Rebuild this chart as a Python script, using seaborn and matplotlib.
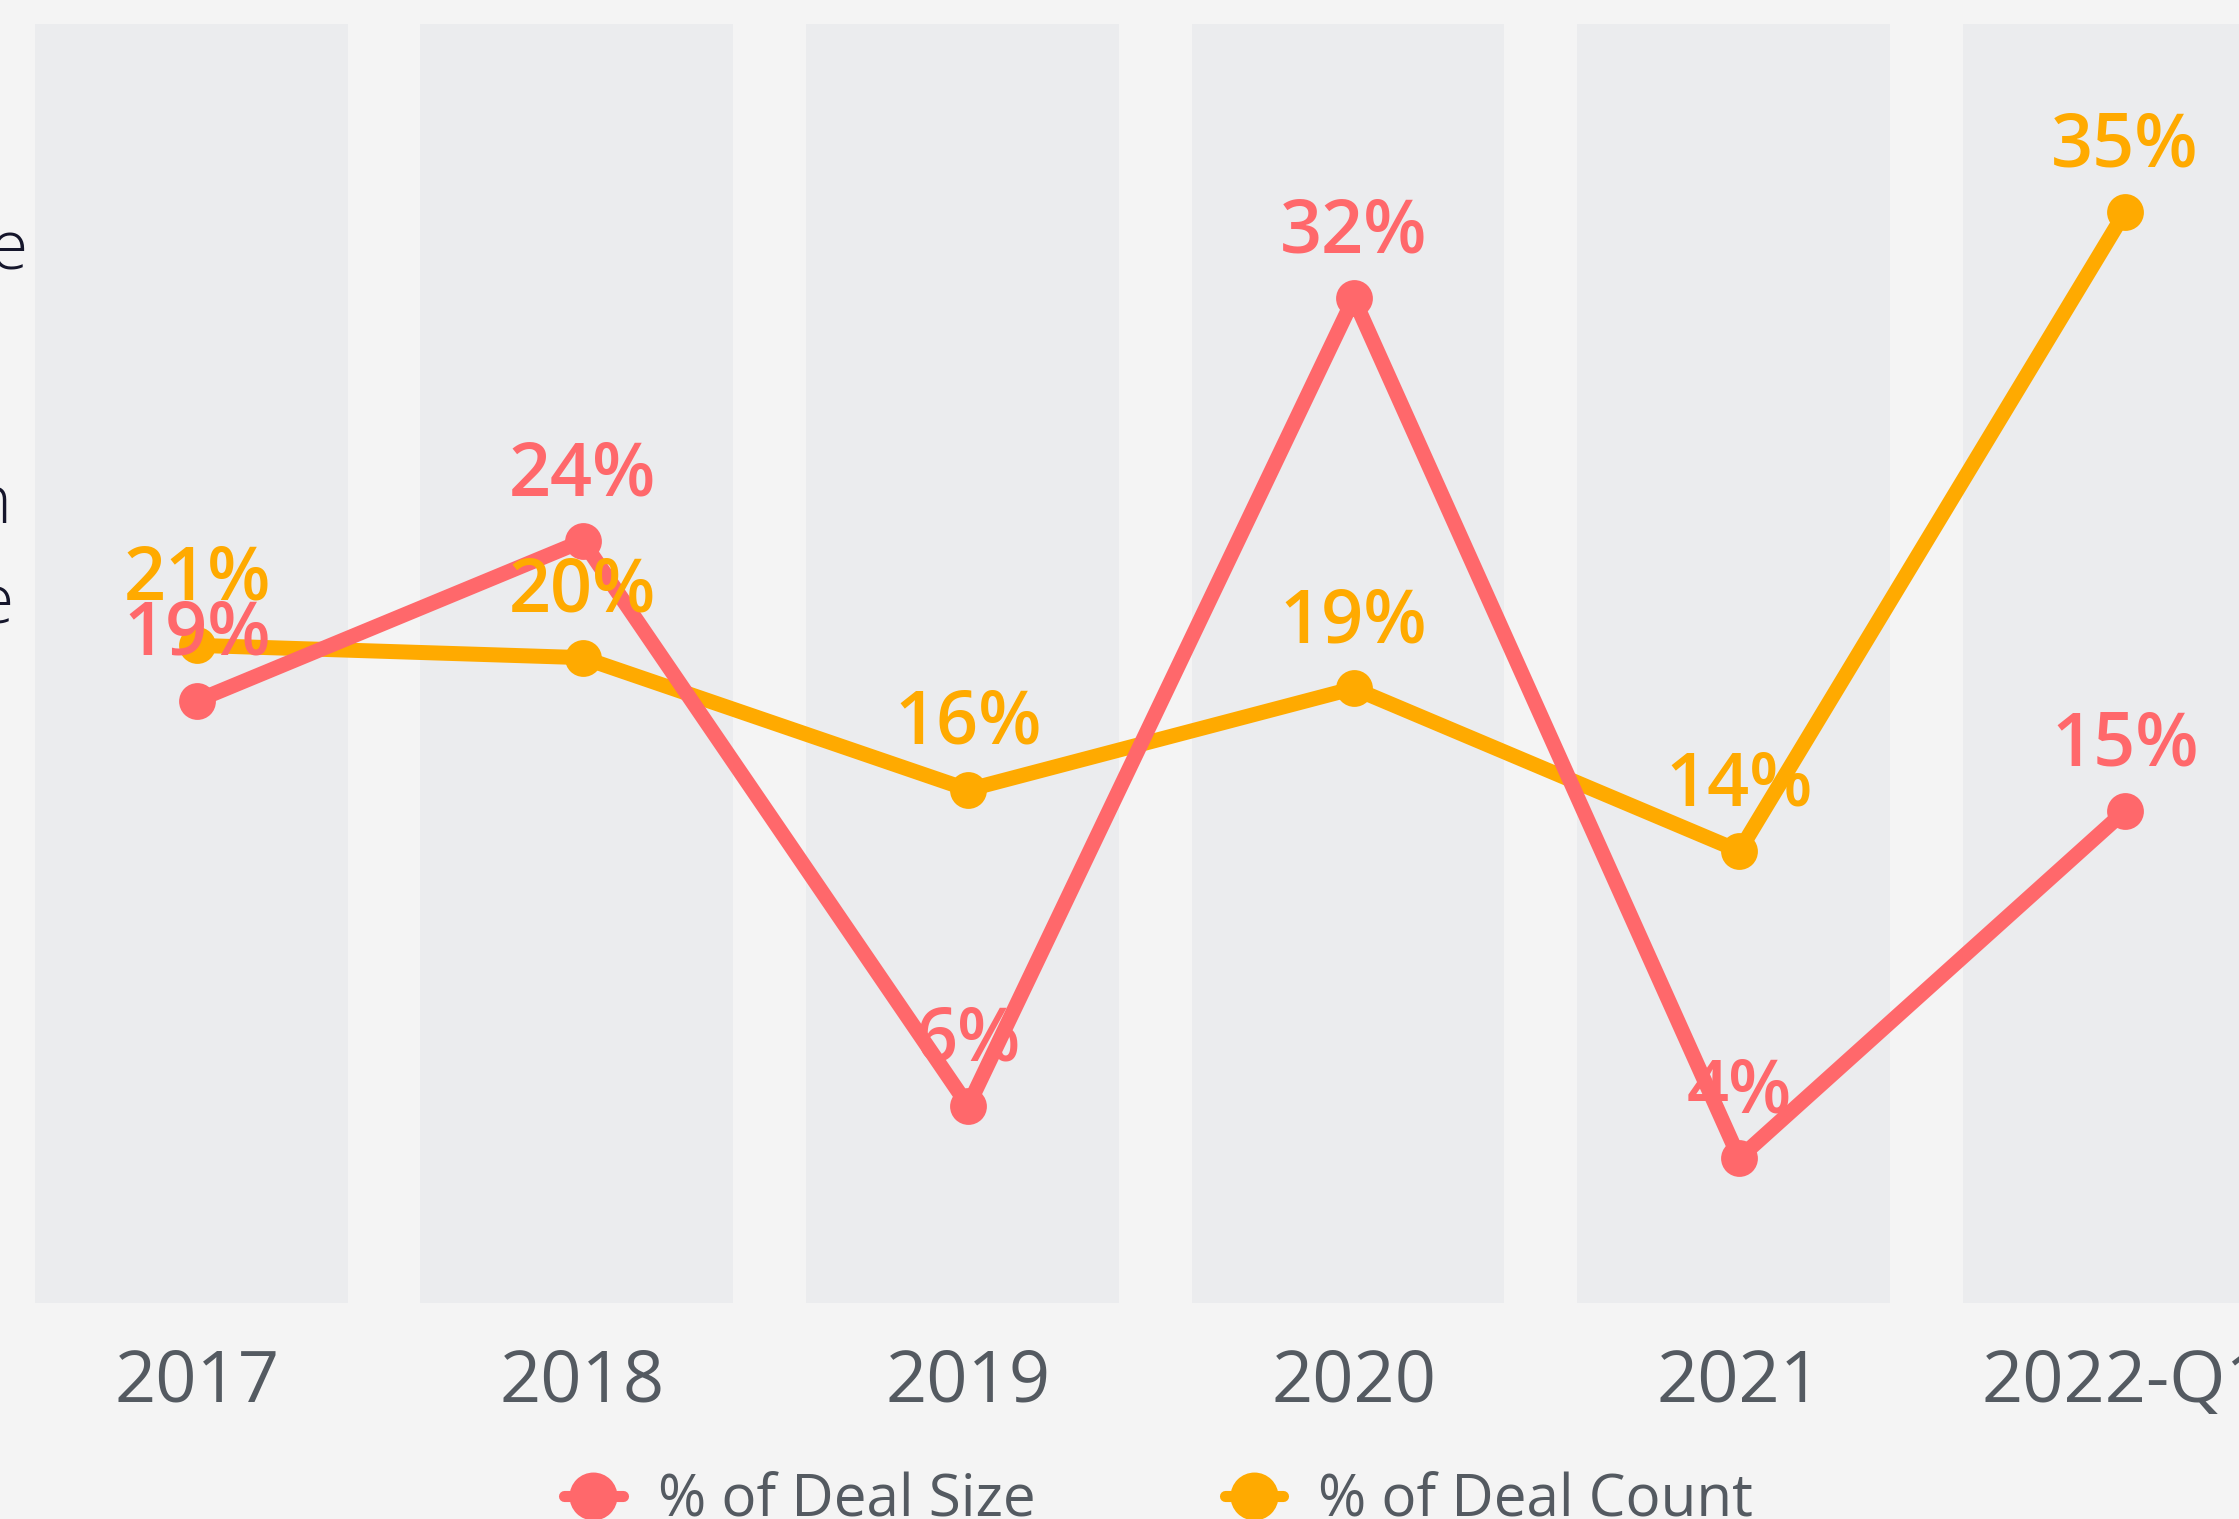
import numpy as np
import pandas as pd
import matplotlib
matplotlib.use("Agg")
import matplotlib.pyplot as plt
from matplotlib.lines import Line2D
import seaborn as sns

# data
years = ["2017", "2018", "2019", "2020", "2021", "2022-Q1"]
deal_size_pct = [18.9, 24.1, 5.7, 32.0, 4.0, 15.3]
deal_count_pct = [20.7, 20.3, 16.0, 19.3, 14.0, 34.8]

RED = "#ff686b"
ORANGE = "#ffaa00"
BG = "#f4f4f4"
COL = "#ebecee"
TICK = "#545a61"

sns.set_theme(style="white")
plt.rcParams["font.family"] = ["Open Sans", "DejaVu Sans"]

df = pd.DataFrame({
    "pos": np.arange(len(years)),
    "Year": years,
    "% of Deal Size": deal_size_pct,
    "% of Deal Count": deal_count_pct,
})

fig = plt.figure(figsize=(22.39, 15.19), dpi=100, facecolor=BG)
ax = fig.add_axes([0, 0.1422, 1, 0.8578])
ax.set_facecolor(BG)

ylo, yhi = -0.72, 41.72
ax.set_xlim(-0.511, 5.296)
ax.set_ylim(ylo, yhi)

# grey background columns, one per period
ax.bar(df["pos"] - 0.015, 40.95 - ylo, bottom=ylo, width=0.811, color=COL,
       linewidth=0, zorder=0)

# lines (count first, size on top)
sns.lineplot(data=df, x="pos", y="% of Deal Count", ax=ax, color=ORANGE,
             linewidth=10.8, marker="o", markersize=26.5, markeredgewidth=0,
             zorder=2)
sns.lineplot(data=df, x="pos", y="% of Deal Size", ax=ax, color=RED,
             linewidth=10.8, marker="o", markersize=26.5, markeredgewidth=0,
             zorder=3)

# value labels
for col, color in [("% of Deal Count", ORANGE), ("% of Deal Size", RED)]:
    for x, v in zip(df["pos"], df[col]):
        ax.annotate(f"{round(v)}%", (x, v), xytext=(0, 33), textcoords="offset points",
                    ha="center", va="baseline", fontsize=53, color=color,
                    fontweight="semibold", zorder=5)

ax.set_xticks(df["pos"])
ax.set_xticklabels(years, fontsize=52, color=TICK)
ax.tick_params(axis="x", length=0, pad=32)
ax.set_yticks([])
ax.set_xlabel("")
ax.set_ylabel("")
for s in ax.spines.values():
    s.set_visible(False)

# fragments of side text cut by the frame
for txt, xr, yb in [("e", 28, 270), ("n", 12, 523), ("e", 14, 623)]:
    fig.text(xr / 2239, 1 - yb / 1519, txt, ha="right", va="baseline",
             fontsize=50, color="#15162b", fontweight="light")

handles = [
    Line2D([], [], color=RED, linewidth=8, marker="o", markersize=34.5, markeredgewidth=0),
    Line2D([], [], color=ORANGE, linewidth=8, marker="o", markersize=34.5, markeredgewidth=0),
]
leg = fig.legend(handles, ["% of Deal Size", "% of Deal Count"], loc="center",
                 bbox_to_anchor=(0.5175, 0.012), ncol=2, frameon=False, fontsize=42,
                 handlelength=1.0, handletextpad=0.6, columnspacing=3.25)
for t in leg.get_texts():
    t.set_color(TICK)

fig.savefig("out.png", dpi=100, facecolor=BG)
